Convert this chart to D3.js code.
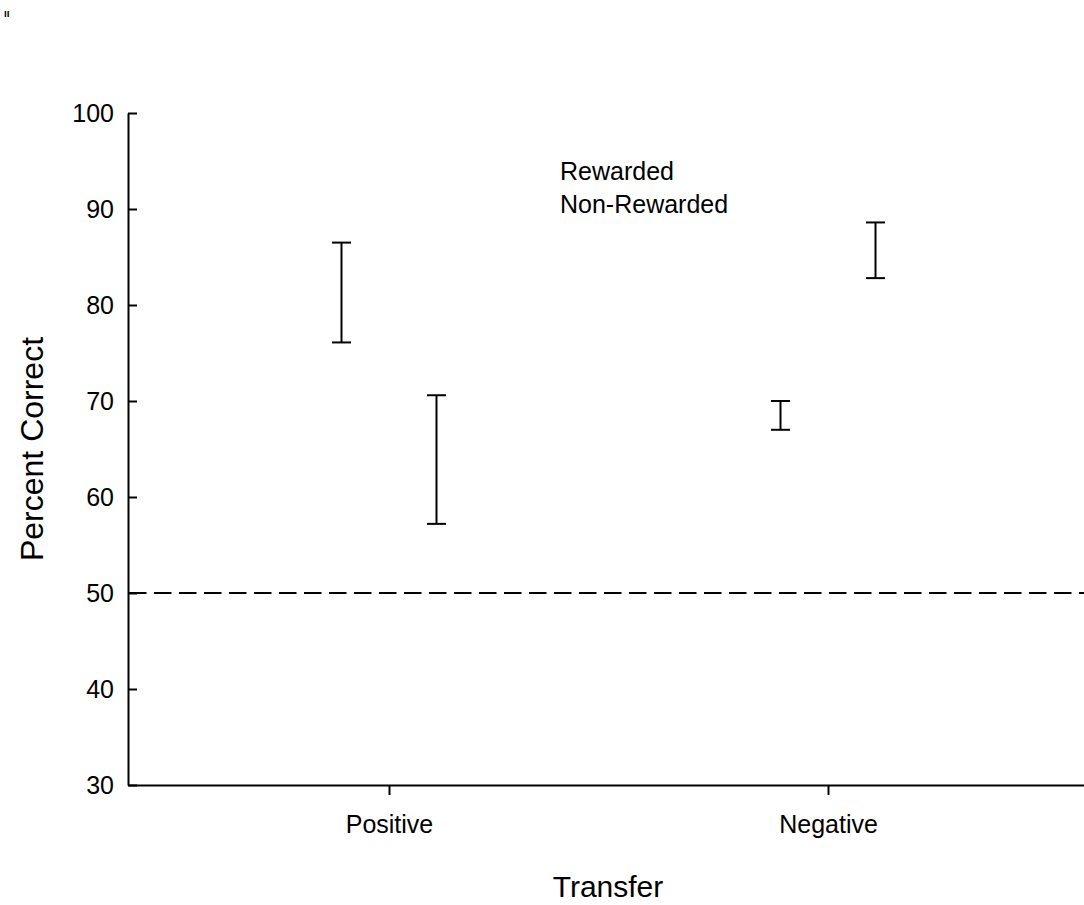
<!DOCTYPE html>
<html>
<head>
<meta charset="utf-8">
<script src="https://cdn.jsdelivr.net/npm/d3@7"></script>
<style>
  body { margin: 0; background: #fff; }
  text { font-family: "Liberation Sans", Arial, sans-serif; fill: #000; }
</style>
</head>
<body>
<script>
var width = 1084;
var height = 905;

// data
var categories = ['Positive', 'Negative'];
var series = ['Rewarded', 'Non-Rewarded'];
var rewardedMean = [81.3, 68.5];
var rewardedErr = [5.2, 1.5];
var nonRewardedMean = [63.9, 85.7];
var nonRewardedErr = [6.7, 2.9];
var yTicks = [30, 40, 50, 60, 70, 80, 90, 100];
var chanceLevel = 50;

var means = { 'Rewarded': rewardedMean, 'Non-Rewarded': nonRewardedMean };
var errs = { 'Rewarded': rewardedErr, 'Non-Rewarded': nonRewardedErr };

var svg = d3.select('body').append('svg')
  .attr('width', width)
  .attr('height', height);

var y = d3.scaleLinear().domain([30, 100]).range([785, 113]);
var x = d3.scalePoint().domain(categories).range([128, 1089]).padding(0.5945);
var xSub = d3.scaleBand().domain(series).range([-95, 95]);

// y axis, ticks point inward
var yAxis = svg.append('g')
  .attr('transform', 'translate(128,0)')
  .call(d3.axisLeft(y).tickValues(yTicks).tickSizeInner(-9).tickSizeOuter(0).tickPadding(14));
yAxis.selectAll('text').style('font-size', '25px').attr('fill', '#000');
yAxis.selectAll('line, path').attr('stroke', '#000').attr('stroke-width', 2);

// x axis
var xAxis = svg.append('g')
  .attr('transform', 'translate(0,785)')
  .call(d3.axisBottom(x).tickSizeInner(10).tickSizeOuter(0).tickPadding(20));
xAxis.selectAll('text').style('font-size', '25px').attr('fill', '#000');
xAxis.selectAll('line, path').attr('stroke', '#000').attr('stroke-width', 2);

// chance line
svg.append('line')
  .attr('x1', 129).attr('x2', width)
  .attr('y1', y(chanceLevel)).attr('y2', y(chanceLevel))
  .attr('stroke', '#000')
  .attr('stroke-width', 2)
  .attr('stroke-dasharray', '17.5,7.5');

// error bars
var bars = [];
series.forEach(function(s) {
  categories.forEach(function(c, i) {
    bars.push({ s: s, c: c, m: means[s][i], e: errs[s][i] });
  });
});

var cx = function(d) { return x(d.c) + xSub(d.s) + xSub.bandwidth() / 2; };
var eb = svg.append('g').attr('stroke', '#000').attr('stroke-width', 2);

eb.selectAll('.stem').data(bars).enter().append('line')
  .attr('x1', cx).attr('x2', cx)
  .attr('y1', function(d) { return y(d.m + d.e); })
  .attr('y2', function(d) { return y(d.m - d.e); });
eb.selectAll('.capTop').data(bars).enter().append('line')
  .attr('x1', function(d) { return cx(d) - 9.5; })
  .attr('x2', function(d) { return cx(d) + 9.5; })
  .attr('y1', function(d) { return y(d.m + d.e); })
  .attr('y2', function(d) { return y(d.m + d.e); });
eb.selectAll('.capBot').data(bars).enter().append('line')
  .attr('x1', function(d) { return cx(d) - 9.5; })
  .attr('x2', function(d) { return cx(d) + 9.5; })
  .attr('y1', function(d) { return y(d.m - d.e); })
  .attr('y2', function(d) { return y(d.m - d.e); });

// legend (text only)
svg.selectAll('.legend').data(series).enter().append('text')
  .attr('x', 560)
  .attr('y', function(d, i) { return 180 + i * 33; })
  .style('font-size', '25px')
  .text(function(d) { return d; });

// axis titles
svg.append('text')
  .attr('transform', 'translate(43,' + y(65) + ') rotate(-90)')
  .attr('text-anchor', 'middle')
  .style('font-size', '32px')
  .text('Percent Correct');

svg.append('text')
  .attr('x', 608)
  .attr('y', 897)
  .attr('text-anchor', 'middle')
  .style('font-size', '30px')
  .text('Transfer');

// stray mark top-left
svg.append('text')
  .attr('x', 4).attr('y', 17)
  .style('font-size', '10px')
  .style('font-weight', 'bold')
  .text('ıı');
</script>
</body>
</html>
